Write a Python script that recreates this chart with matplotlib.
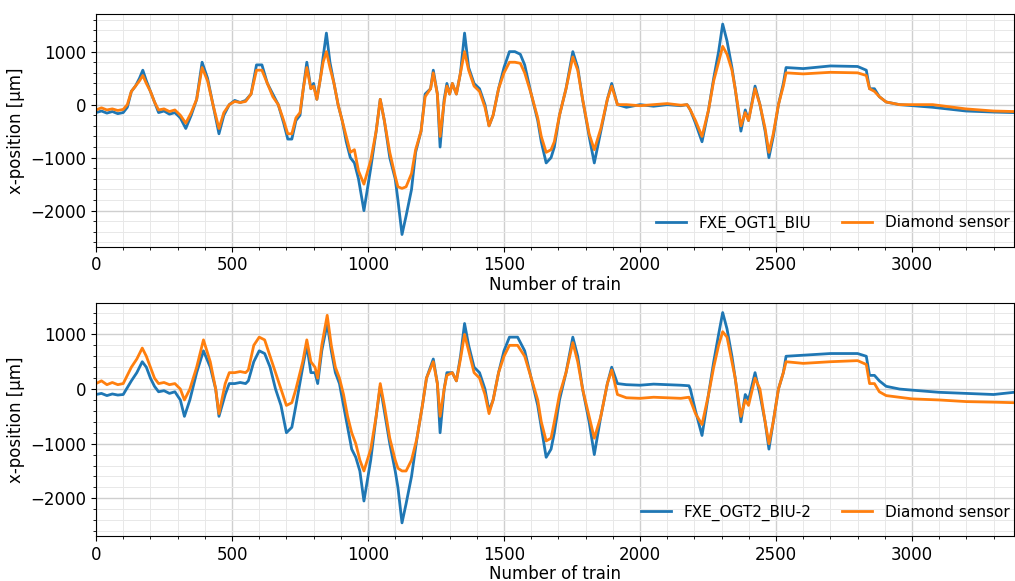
import numpy as np
import matplotlib
matplotlib.use("Agg")
import matplotlib.pyplot as plt

# %%
# values (train number, x-position in um)

top_train = [0, 20, 40, 60, 80, 100, 115, 130, 145, 160, 172, 185, 200, 215, 230, 250, 270, 290,
             310, 330, 350, 370, 390, 410, 430, 452, 470, 490, 510, 530, 550, 570, 590, 610, 630,
             650, 670, 690, 705, 720, 735, 750, 762, 775, 790, 800, 812, 825, 835, 847, 860, 875,
             890, 905, 920, 935, 950, 965, 985, 1010, 1030, 1045, 1060, 1080, 1100, 1110, 1125,
             1140, 1160, 1175, 1195, 1210, 1230, 1240, 1255, 1265, 1280, 1290, 1300, 1310, 1325,
             1340, 1355, 1370, 1390, 1410, 1430, 1445, 1460, 1480, 1500, 1520, 1540, 1560, 1576,
             1600, 1624, 1637, 1655, 1673, 1685, 1704, 1728, 1753, 1771, 1789, 1813, 1832, 1856,
             1880, 1896, 1917, 1950, 2000, 2050, 2100, 2150, 2173, 2185, 2204, 2228, 2252, 2271,
             2289, 2304, 2320, 2338, 2350, 2371, 2387, 2399, 2423, 2441, 2460, 2474, 2490, 2509,
             2527, 2537, 2600, 2700, 2800, 2832, 2844, 2862, 2880, 2905, 2954, 3076, 3198, 3300,
             3375]

top_biu = [-150, -120, -160, -130, -170, -150, -50, 250, 350, 500, 650, 450, 250, 50, -150, -120,
           -180, -150, -250, -450, -200, 100, 800, 500, 0, -550, -200, 0, 80, 40, 80, 200, 750,
           750, 400, 200, 0, -350, -650, -650, -300, -200, 300, 800, 300, 400, 100, 500, 900,
           1350, 800, 400, 0, -300, -700, -1000, -1100, -1400, -2000, -1200, -500, 100, -300,
           -1000, -1400, -1800, -2450, -2100, -1600, -900, -500, 200, 300, 650, 200, -800, 100,
           400, 200, 400, 200, 600, 1350, 700, 400, 300, 0, -400, -200, 300, 700, 1000, 1000,
           950, 750, 200, -300, -700, -1100, -1000, -800, -200, 300, 1000, 700, 100, -600, -1100,
           -500, 100, 400, 0, -50, 0, -30, 0, -20, 0, -100, -350, -700, -100, 500, 1000, 1520,
           1200, 700, 300, -500, -100, -300, 350, 0, -500, -1000, -600, 0, 400, 700, 680, 730,
           720, 650, 300, 300, 150, 50, 0, -50, -120, -140, -150]

top_diamond = [-100, -60, -100, -80, -110, -90, 0, 250, 350, 450, 550, 400, 250, 50, -100, -80,
               -130, -100, -200, -350, -150, 100, 700, 450, 0, -450, -150, 0, 60, 40, 60, 200,
               650, 650, 400, 150, 0, -300, -550, -550, -250, -150, 300, 700, 300, 350, 100, 500,
               800, 1000, 700, 400, 0, -300, -600, -900, -850, -1250, -1500, -1050, -500, 100,
               -300, -900, -1350, -1550, -1580, -1550, -1300, -850, -500, 150, 300, 600, 200,
               -600, 50, 350, 200, 400, 200, 600, 1000, 650, 350, 250, -50, -400, -200, 300, 600,
               800, 800, 780, 600, 200, -250, -600, -900, -850, -700, -200, 300, 900, 650, 100,
               -550, -850, -450, 100, 350, 0, 0, -20, 0, 20, -10, 0, -100, -300, -600, -100, 450,
               800, 1100, 950, 650, 300, -400, -150, -300, 300, 0, -450, -900, -550, 0, 350, 600,
               580, 610, 600, 550, 300, 250, 150, 50, 0, 0, -80, -120, -130]

bot_train = [0, 20, 40, 60, 80, 100, 130, 150, 170, 185, 200, 215, 230, 250, 270, 290, 310, 325,
             345, 370, 395, 420, 440, 452, 475, 490, 510, 530, 550, 560, 580, 600, 620, 640, 660,
             680, 700, 720, 735, 760, 775, 790, 805, 815, 830, 850, 865, 880, 895, 910, 925, 940,
             955, 970, 985, 1010, 1030, 1045, 1060, 1080, 1100, 1110, 1125, 1140, 1160, 1180,
             1200, 1215, 1240, 1255, 1265, 1280, 1290, 1310, 1325, 1340, 1355, 1370, 1390, 1410,
             1430, 1445, 1460, 1480, 1500, 1520, 1550, 1576, 1600, 1624, 1637, 1655, 1673, 1685,
             1704, 1728, 1753, 1771, 1789, 1813, 1832, 1856, 1880, 1896, 1917, 1950, 2000, 2050,
             2100, 2150, 2180, 2185, 2204, 2228, 2252, 2271, 2289, 2304, 2320, 2338, 2350, 2371,
             2387, 2399, 2423, 2441, 2460, 2474, 2490, 2509, 2527, 2537, 2600, 2700, 2800, 2832,
             2844, 2862, 2880, 2905, 2954, 3000, 3100, 3200, 3300, 3375]

bot_biu = [-100, -80, -120, -90, -110, -100, 150, 300, 500, 400, 200, 50, -50, -30, -80, -50,
           -200, -500, -200, 300, 700, 400, 0, -500, -100, 100, 100, 120, 100, 150, 500, 700, 650,
           400, 0, -300, -800, -700, -300, 400, 800, 300, 300, 100, 700, 1200, 700, 300, 100,
           -300, -700, -1100, -1250, -1500, -2050, -1300, -500, 50, -400, -1000, -1500, -1800,
           -2450, -2100, -1600, -900, -300, 200, 550, 100, -800, 0, 300, 300, 150, 600, 1200, 800,
           400, 300, 0, -400, -200, 300, 700, 950, 950, 700, 200, -300, -700, -1250, -1100, -800,
           -200, 300, 950, 600, 0, -600, -1200, -500, 100, 400, 100, 80, 70, 90, 80, 70, 60, 0,
           -400, -850, -100, 500, 1000, 1400, 1100, 600, 200, -600, -100, -200, 300, -100, -600,
           -1100, -600, 0, 300, 600, 620, 650, 650, 600, 250, 250, 150, 50, 0, -20, -60, -80, -100,
           -60]

bot_diamond = [100, 150, 80, 120, 80, 100, 400, 550, 750, 600, 400, 200, 100, 120, 80, 100, 0,
               -200, 0, 400, 900, 500, 0, -450, 100, 300, 300, 320, 300, 350, 800, 950, 900, 600,
               300, 0, -300, -250, 0, 500, 900, 500, 400, 200, 800, 1350, 800, 400, 200, -100,
               -500, -800, -1000, -1300, -1500, -1100, -500, 100, -300, -900, -1300, -1450, -1500,
               -1500, -1300, -900, -300, 200, 500, 100, -500, 0, 250, 300, 150, 550, 1000, 700,
               300, 200, -100, -450, -200, 300, 600, 800, 800, 600, 200, -200, -600, -950, -900,
               -600, -100, 300, 850, 500, 0, -500, -900, -500, 100, 350, -100, -160, -170, -150,
               -160, -170, -150, -200, -450, -650, -100, 400, 800, 1050, 950, 500, 200, -500, -200,
               -300, 200, 0, -600, -1000, -600, 0, 300, 500, 470, 500, 520, 450, 100, 100, -50,
               -120, -150, -180, -200, -230, -240, -250]

# %%

def position_plot(ax, train, biu, diamond, biu_name, ylim):
    """Plots one BIU against the diamond sensor on the given axes"""
    ax.plot(train, biu, color="tab:blue", lw=2, label=biu_name)
    ax.plot(train, diamond, color="tab:orange", lw=2, label="Diamond sensor")
    ax.set_xlim(0, 3375)
    ax.set_ylim(ylim)
    ax.set_yticks([-2000, -1000, 0, 1000])
    ax.minorticks_on()
    ax.grid(which="major", color="#cfcfcf", lw=1.0)
    ax.grid(which="minor", color="#e8e8e8", lw=0.7)
    ax.set_axisbelow(True)
    ax.tick_params(labelsize=12)
    ax.set_xlabel("Number of train", fontsize=12, labelpad=1)
    ax.set_ylabel("x-position [µm]", fontsize=12)
    ax.legend(loc="lower right", bbox_to_anchor=(1.0, 0.045), ncol=2, frameon=False,
              fontsize=11, borderaxespad=0.2, borderpad=0.1)


fig = plt.figure(figsize=(10.15, 5.81), dpi=100)
ax1 = fig.add_axes([0.0946, 0.5754, 0.9044, 0.4005])
ax2 = fig.add_axes([0.0946, 0.0775, 0.9044, 0.4005])

position_plot(ax1, top_train, top_biu, top_diamond, "FXE_OGT1_BIU", [-2680, 1710])
position_plot(ax2, bot_train, bot_biu, bot_diamond, "FXE_OGT2_BIU-2", [-2690, 1570])

fig.savefig("out.png", dpi=100)
